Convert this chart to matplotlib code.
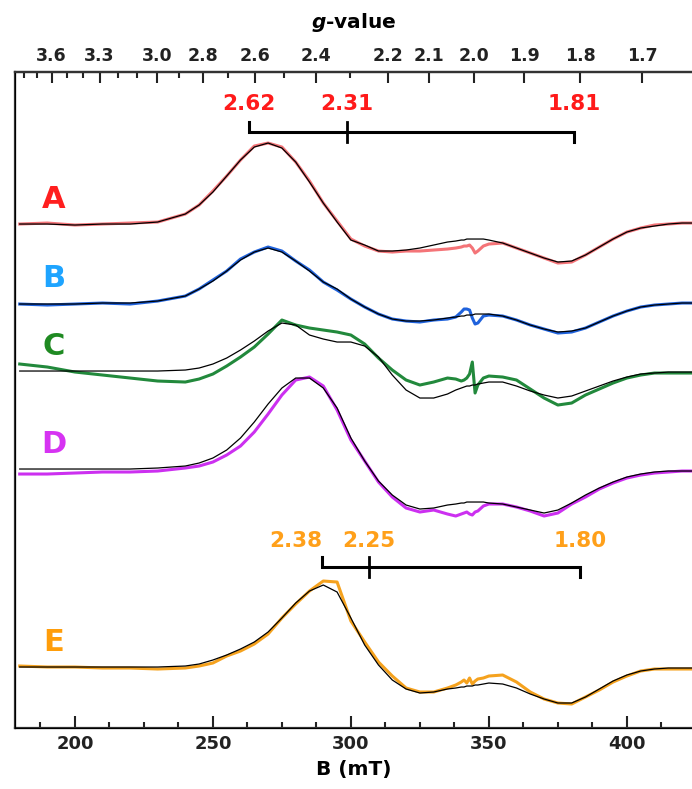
import matplotlib.pyplot as plt
from matplotlib.ticker import MultipleLocator

plt.rcParams['font.family'] = 'DejaVu Sans'
plt.rcParams['mathtext.fontset'] = 'custom'
plt.rcParams['mathtext.it'] = 'DejaVu Sans:italic:bold'

# g * B (mT) for the spectrometer frequency (~9.65 GHz)
GB = 689.5

# magnetic field grid, mT
field = [180, 190, 200, 210, 220, 230, 240,
         245, 250, 255, 260, 265, 270, 275, 280, 285, 290, 295, 300, 305, 310, 315, 320, 325, 330, 335,
         338, 340, 341, 342, 343, 344, 345, 346, 348,
         350, 355, 360, 365, 370, 375, 380, 385, 390, 395, 400, 405, 410, 415, 420,
         424]

# spectra (experiment) and simulations, arbitrary units
a_data = [0, 1, -1, 0, 1, 2, 10,
          19, 33, 48, 64, 78, 81, 77, 62, 43, 21, 3, -15, -22, -27, -28, -27, -27, -26, -25,
          -24, -23, -22, -22, -21, -24, -29, -27, -22,
          -20, -19, -24, -29, -34, -39, -38, -31, -23, -15, -8, -4, -1, 0, 1,
          1]
a_fit = [0, 0, -1, 0, 0, 2, 10,
         19, 32, 48, 64, 77, 81, 76, 62, 42, 21, 2, -16, -21, -27, -27, -26, -24, -21, -18,
         -17, -16, -16, -15, -15, -15, -15, -15, -15,
         -16, -19, -24, -29, -34, -38, -37, -31, -23, -15, -8, -4, -2, 0, 1,
         1]

b_data = [-1, -2, -1, 0, -1, 2, 7,
          14, 23, 32, 44, 51, 56, 52, 42, 33, 21, 13, 4, -4, -11, -16, -18, -19, -17, -16,
          -14, -9, -6, -6, -7, -15, -21, -20, -13,
          -12, -13, -17, -22, -26, -30, -29, -25, -19, -13, -8, -4, -2, -1, 0,
          0]
b_fit = [-1, -1, -1, 0, 0, 2, 7,
         14, 22, 32, 43, 51, 55, 51, 42, 32, 21, 14, 4, -4, -11, -16, -18, -18, -17, -15,
         -14, -13, -13, -12, -12, -12, -11, -11, -11,
         -11, -13, -17, -22, -26, -29, -28, -25, -19, -13, -8, -4, -2, -1, 0,
         0]

c_data = [7, 4, -1, -4, -7, -10, -11,
          -8, -3, 5, 14, 24, 37, 51, 46, 43, 41, 39, 36, 27, 13, 1, -9, -14, -11, -7,
          -8, -10, -9, -7, -3, 9, -22, -14, -7,
          -5, -6, -9, -18, -27, -34, -32, -24, -18, -12, -7, -4, -2, -2, -2,
          -2]
c_fit = [0, 0, 0, 0, 0, 0, 1,
         3, 7, 13, 21, 30, 40, 48, 46, 36, 32, 29, 29, 25, 14, -4, -19, -27, -27, -23,
         -19, -17, -16, -15, -15, -14, -14, -13, -12,
         -11, -11, -15, -20, -24, -27, -25, -20, -15, -10, -6, -3, -2, -1, -1,
         -1]

d_data = [-5, -5, -4, -3, -3, -2, 1,
          3, 7, 14, 23, 37, 55, 74, 89, 92, 83, 59, 29, 8, -13, -28, -39, -43, -41, -45,
          -47, -45, -44, -43, -45, -46, -43, -42, -37,
          -35, -35, -38, -42, -47, -44, -35, -28, -20, -14, -9, -6, -4, -3, -2,
          -2]
d_fit = [0, 0, 0, 0, 0, 1, 3,
         6, 11, 19, 31, 47, 65, 81, 91, 91, 81, 61, 31, 8, -12, -26, -36, -40, -39, -36,
         -35, -34, -34, -33, -33, -33, -33, -33, -33,
         -34, -35, -38, -41, -44, -41, -34, -26, -19, -13, -8, -5, -3, -2, -2,
         -2]

e_data = [1, 0, 0, -1, -1, -2, -1,
          1, 4, 11, 16, 23, 33, 49, 63, 76, 86, 85, 46, 25, 5, -9, -21, -25, -25, -21,
          -18, -15, -13, -16, -11, -17, -14, -12, -11,
          -9, -8, -15, -25, -32, -36, -37, -30, -23, -15, -9, -4, -2, -2, -2,
          -2]
e_fit = [0, 0, 0, 0, 0, 0, 1,
         3, 7, 12, 18, 25, 35, 49, 64, 76, 82, 75, 49, 22, 2, -13, -22, -26, -25, -22,
         -21, -20, -20, -19, -19, -19, -18, -18, -17,
         -16, -17, -21, -27, -32, -36, -36, -30, -22, -14, -8, -4, -2, -1, -1,
         -1]

names = ['A', 'B', 'C', 'D', 'E']
offsets = [504, 425, 357, 259, 61]
data_colors = ['#f47478', '#1f62dc', '#22893c', '#cc30f0', '#f5a21e']
label_colors = ['#ff1f1f', '#1ea4ff', '#1f8a22', '#d633f2', '#ff9d0a']
spectra = [(a_data, a_fit), (b_data, b_fit), (c_data, c_fit), (d_data, d_fit), (e_data, e_fit)]

# g-values marked above spectrum A and E
g_red = [2.62, 2.31, 1.81]
g_orange = [2.38, 2.25, 1.80]

g_major = [3.6, 3.3, 3.0, 2.8, 2.6, 2.4, 2.2, 2.1, 2.0, 1.9, 1.8, 1.7]
g_minor = [3.8, 3.7, 3.5, 3.4, 3.2, 3.1, 2.9, 2.7, 2.5, 2.3]

fig = plt.figure(figsize=(6.92, 7.89), dpi=100)
ax = fig.add_axes([0.0217, 0.0773, 0.9783, 0.8314])
ax.set_xlim(178.3, 423.6)
ax.set_ylim(0, 656)

for (dat, fit), off, col in zip(spectra, offsets, data_colors):
    ax.plot(field, [v + off for v in dat], color=col, lw=2.2, solid_joinstyle='round')
    ax.plot(field, [v + off for v in fit], color='black', lw=0.9)

for name, off, col in zip(names, offsets, label_colors):
    ax.text(192.4, off + 25, name, color=col, fontsize=22, fontweight='bold',
            ha='center', va='center')


def bracket(g_vals, level, color, text_dy, first_right=False):
    """Скобка с отметками g-значений"""
    xs = [GB / g for g in g_vals]
    ax.plot([xs[0], xs[0], xs[-1], xs[-1]], [level + 10, level, level, level - 10],
            color='black', lw=2.2, solid_joinstyle='miter')
    ax.plot([xs[1], xs[1]], [level + 10, level - 10], color='black', lw=2.0)
    for i, (g, x) in enumerate(zip(g_vals, xs)):
        ha = 'right' if (first_right and i == 0) else 'center'
        ax.text(x, level + text_dy, f'{g:.2f}', color=color, fontsize=15.5,
                fontweight='bold', ha=ha, va='center')


bracket(g_red, 596, '#ff1a1a', 28)
bracket(g_orange, 161, '#ffa01a', 26, first_right=True)

ax.spines['right'].set_visible(False)
for side in ['left', 'bottom', 'top']:
    ax.spines[side].set_linewidth(1.6)
    ax.spines[side].set_color('#333333')
ax.set_yticks([])
ax.xaxis.set_major_locator(MultipleLocator(50))
ax.xaxis.set_minor_locator(MultipleLocator(12.5))
ax.tick_params(axis='x', which='major', direction='in', length=9, width=1.5,
               labelsize=13, pad=5, colors='#222222')
ax.tick_params(axis='x', which='minor', direction='in', length=4.5, width=1.5, colors='#222222')
for lab in ax.get_xticklabels():
    lab.set_fontweight('bold')
ax.set_xlabel('B (mT)', fontsize=14.5, fontweight='bold', labelpad=5)

# g-value scale on top
top = ax.twiny()
top.set_xlim(ax.get_xlim())
top.set_xticks([GB / g for g in g_major])
top.set_xticklabels([f'{g:.1f}' for g in g_major], fontweight='bold')
top.set_xticks([GB / g for g in g_minor], minor=True)
top.tick_params(axis='x', which='major', direction='in', length=8, width=1.5,
                labelsize=12.5, pad=5, colors='#222222')
top.tick_params(axis='x', which='minor', direction='in', length=4, width=1.5, colors='#222222')
top.spines['right'].set_visible(False)
top.spines['top'].set_linewidth(1.6)
top.spines['top'].set_color('#333333')
top.set_xlabel('$g$-value', fontsize=14.5, fontweight='bold', labelpad=14)

fig.savefig('out.png', dpi=100)
